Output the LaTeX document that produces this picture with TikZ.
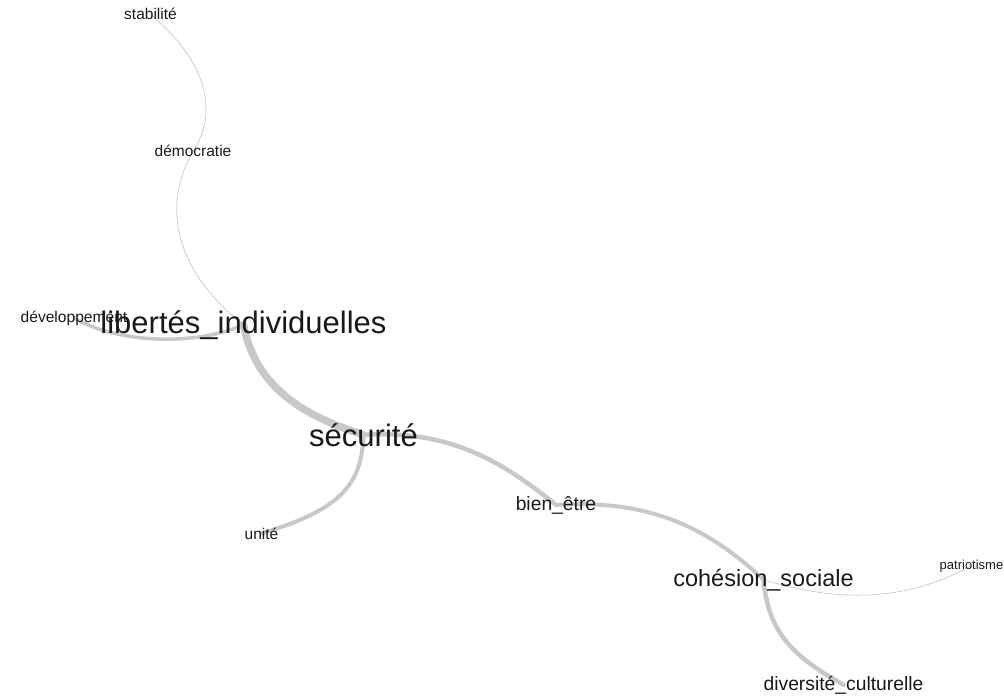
\documentclass[tikz,border=0pt]{standalone}
\usepackage{fontspec}
\setmainfont{Liberation Sans}
\usetikzlibrary{backgrounds}
\definecolor{edgegray}{RGB}{200,200,200}
\tikzset{
 word/.style={anchor=base, inner sep=0pt, text=black!90},
 big/.style={word, font=\fontsize{31}{31}\selectfont},
 mid/.style={word, font=\fontsize{23.5}{24}\selectfont},
 small/.style={word, font=\fontsize{19.3}{20}\selectfont},
 tiny/.style={word, font=\fontsize{15.5}{16}\selectfont},
 link/.style={edgegray, line cap=round},
}

\begin{document}
\begin{tikzpicture}[x=1pt, y=-1pt]
\useasboundingbox (0,0) rectangle (1004,698);
\node[tiny] (stab) at (150.5,20) {stabilité};
\node[tiny] (demo) at (193,157) {démocratie};
\node[tiny, font=\fontsize{15.6}{16}\selectfont] (dev) at (74,322) {développement};
\node[big] (lib) at (243.5,333) {libertés\_individuelles};
\node[big] (secu) at (363.5,446) {sécurité};
\node[tiny] (unit) at (261.5,539) {unité};
\node[small] (bien) at (556,510) {bien\_être};
\node[mid] (cohe) at (763.5,586) {cohésion\_sociale};
\node[tiny, font=\fontsize{13}{13}\selectfont] (patr) at (971.5,569) {patriotisme};
\node[small] (dive) at (843.5,690) {diversité\_culturelle};
\begin{scope}[on background layer]
\draw[link, line width=.7] (stab.center) .. controls (205,60) and (220,110) .. (demo.center);
\draw[link, line width=.7] (demo.center) .. controls (165,200) and (168,265) .. (lib.center);
\draw[link, line width=3.5] (dev.center) .. controls (120,345) and (200,345) .. (lib.center);
\draw[link, line width=7.5] (lib.center) .. controls (255,385) and (300,415) .. (secu.center);
\draw[link, line width=4] (secu.center) .. controls (362,485) and (340,510) .. (unit.center);
\draw[link, line width=4.5] (secu.center) .. controls (450,430) and (500,460) .. (bien.center);
\draw[link, line width=4] (bien.center) .. controls (640,500) and (700,520) .. (cohe.center);
\draw[link, line width=4.5] (cohe.center) .. controls (768,630) and (790,655) .. (dive.center);
\draw[link, line width=.7] (cohe.center) .. controls (830,600) and (900,605) .. (patr.center);
\end{scope}
\end{tikzpicture}
\end{document}
